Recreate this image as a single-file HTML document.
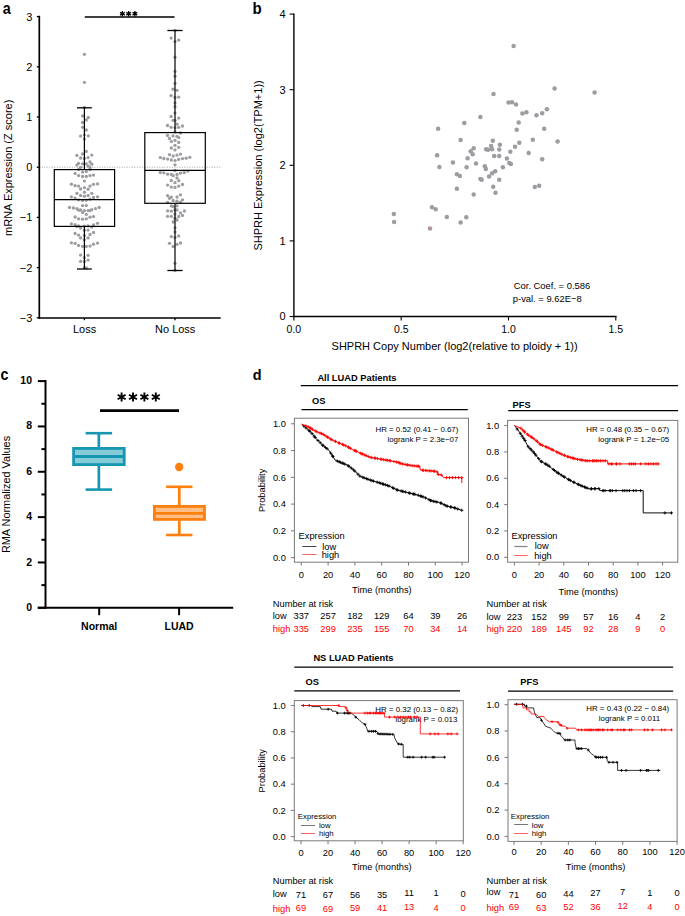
<!DOCTYPE html>
<html><head><meta charset="utf-8"><title>Figure</title>
<style>
html,body{margin:0;padding:0;background:#fff;}
svg{display:block;font-family:"Liberation Sans", sans-serif;}
</style></head>
<body>
<svg width="685" height="916" viewBox="0 0 685 916">
<rect width="685" height="916" fill="#fff"/>
<text transform="translate(2.7,13.5) scale(0.9,1)" font-size="16" font-weight="bold">a</text>
<circle cx="84.4" cy="54.3" r="1.65" fill="#9c9ca2"/>
<circle cx="84.4" cy="82.3" r="1.65" fill="#9c9ca2"/>
<circle cx="84.4" cy="107.5" r="1.65" fill="#9c9ca2"/>
<circle cx="82.6" cy="115.9" r="1.65" fill="#9c9ca2"/>
<circle cx="88.3" cy="117.5" r="1.65" fill="#9c9ca2"/>
<circle cx="86.3" cy="119.9" r="1.65" fill="#9c9ca2"/>
<circle cx="82.6" cy="122.5" r="1.65" fill="#9c9ca2"/>
<circle cx="82.6" cy="127.3" r="1.65" fill="#9c9ca2"/>
<circle cx="86.3" cy="130.0" r="1.65" fill="#9c9ca2"/>
<circle cx="80.6" cy="136.1" r="1.65" fill="#9c9ca2"/>
<circle cx="84.4" cy="134.8" r="1.65" fill="#9c9ca2"/>
<circle cx="88.3" cy="135.8" r="1.65" fill="#9c9ca2"/>
<circle cx="84.4" cy="139.0" r="1.65" fill="#9c9ca2"/>
<circle cx="86.3" cy="151.4" r="1.65" fill="#9c9ca2"/>
<circle cx="82.6" cy="153.9" r="1.65" fill="#9c9ca2"/>
<circle cx="76.9" cy="155.4" r="1.65" fill="#9c9ca2"/>
<circle cx="91.8" cy="155.1" r="1.65" fill="#9c9ca2"/>
<circle cx="80.6" cy="158.0" r="1.65" fill="#9c9ca2"/>
<circle cx="84.4" cy="158.4" r="1.65" fill="#9c9ca2"/>
<circle cx="88.1" cy="157.6" r="1.65" fill="#9c9ca2"/>
<circle cx="78.6" cy="163.3" r="1.65" fill="#9c9ca2"/>
<circle cx="82.6" cy="163.8" r="1.65" fill="#9c9ca2"/>
<circle cx="86.3" cy="163.8" r="1.65" fill="#9c9ca2"/>
<circle cx="90.0" cy="162.0" r="1.65" fill="#9c9ca2"/>
<circle cx="91.8" cy="164.2" r="1.65" fill="#9c9ca2"/>
<circle cx="76.9" cy="165.1" r="1.65" fill="#9c9ca2"/>
<circle cx="80.6" cy="167.3" r="1.65" fill="#9c9ca2"/>
<circle cx="88.1" cy="165.9" r="1.65" fill="#9c9ca2"/>
<circle cx="90.0" cy="167.7" r="1.65" fill="#9c9ca2"/>
<circle cx="78.6" cy="169.5" r="1.65" fill="#9c9ca2"/>
<circle cx="90.0" cy="169.5" r="1.65" fill="#9c9ca2"/>
<circle cx="75.1" cy="173.4" r="1.65" fill="#9c9ca2"/>
<circle cx="82.6" cy="172.1" r="1.65" fill="#9c9ca2"/>
<circle cx="86.3" cy="171.6" r="1.65" fill="#9c9ca2"/>
<circle cx="78.6" cy="175.6" r="1.65" fill="#9c9ca2"/>
<circle cx="82.6" cy="176.5" r="1.65" fill="#9c9ca2"/>
<circle cx="86.3" cy="176.5" r="1.65" fill="#9c9ca2"/>
<circle cx="90.0" cy="175.6" r="1.65" fill="#9c9ca2"/>
<circle cx="93.5" cy="175.1" r="1.65" fill="#9c9ca2"/>
<circle cx="84.4" cy="181.1" r="1.65" fill="#9c9ca2"/>
<circle cx="71.4" cy="184.2" r="1.65" fill="#9c9ca2"/>
<circle cx="75.1" cy="185.7" r="1.65" fill="#9c9ca2"/>
<circle cx="78.6" cy="186.1" r="1.65" fill="#9c9ca2"/>
<circle cx="80.6" cy="189.0" r="1.65" fill="#9c9ca2"/>
<circle cx="84.4" cy="187.6" r="1.65" fill="#9c9ca2"/>
<circle cx="88.1" cy="189.2" r="1.65" fill="#9c9ca2"/>
<circle cx="90.0" cy="186.1" r="1.65" fill="#9c9ca2"/>
<circle cx="93.5" cy="184.3" r="1.65" fill="#9c9ca2"/>
<circle cx="97.5" cy="183.9" r="1.65" fill="#9c9ca2"/>
<circle cx="84.4" cy="192.2" r="1.65" fill="#9c9ca2"/>
<circle cx="76.9" cy="193.3" r="1.65" fill="#9c9ca2"/>
<circle cx="91.8" cy="193.3" r="1.65" fill="#9c9ca2"/>
<circle cx="80.6" cy="195.5" r="1.65" fill="#9c9ca2"/>
<circle cx="84.4" cy="196.2" r="1.65" fill="#9c9ca2"/>
<circle cx="88.1" cy="195.5" r="1.65" fill="#9c9ca2"/>
<circle cx="71.4" cy="196.8" r="1.65" fill="#9c9ca2"/>
<circle cx="75.1" cy="198.1" r="1.65" fill="#9c9ca2"/>
<circle cx="78.6" cy="199.8" r="1.65" fill="#9c9ca2"/>
<circle cx="82.6" cy="200.4" r="1.65" fill="#9c9ca2"/>
<circle cx="86.3" cy="200.1" r="1.65" fill="#9c9ca2"/>
<circle cx="90.0" cy="199.2" r="1.65" fill="#9c9ca2"/>
<circle cx="93.5" cy="197.5" r="1.65" fill="#9c9ca2"/>
<circle cx="97.5" cy="196.8" r="1.65" fill="#9c9ca2"/>
<circle cx="82.6" cy="205.6" r="1.65" fill="#9c9ca2"/>
<circle cx="86.3" cy="205.6" r="1.65" fill="#9c9ca2"/>
<circle cx="69.5" cy="207.4" r="1.65" fill="#9c9ca2"/>
<circle cx="73.4" cy="208.0" r="1.65" fill="#9c9ca2"/>
<circle cx="76.9" cy="208.6" r="1.65" fill="#9c9ca2"/>
<circle cx="78.6" cy="210.2" r="1.65" fill="#9c9ca2"/>
<circle cx="80.6" cy="210.0" r="1.65" fill="#9c9ca2"/>
<circle cx="82.6" cy="212.4" r="1.65" fill="#9c9ca2"/>
<circle cx="84.4" cy="210.6" r="1.65" fill="#9c9ca2"/>
<circle cx="88.1" cy="210.6" r="1.65" fill="#9c9ca2"/>
<circle cx="90.0" cy="210.6" r="1.65" fill="#9c9ca2"/>
<circle cx="91.8" cy="209.7" r="1.65" fill="#9c9ca2"/>
<circle cx="95.5" cy="208.6" r="1.65" fill="#9c9ca2"/>
<circle cx="99.2" cy="207.4" r="1.65" fill="#9c9ca2"/>
<circle cx="86.3" cy="214.4" r="1.65" fill="#9c9ca2"/>
<circle cx="75.1" cy="217.0" r="1.65" fill="#9c9ca2"/>
<circle cx="78.6" cy="218.8" r="1.65" fill="#9c9ca2"/>
<circle cx="82.6" cy="219.2" r="1.65" fill="#9c9ca2"/>
<circle cx="86.3" cy="218.8" r="1.65" fill="#9c9ca2"/>
<circle cx="90.0" cy="217.2" r="1.65" fill="#9c9ca2"/>
<circle cx="93.5" cy="216.6" r="1.65" fill="#9c9ca2"/>
<circle cx="71.4" cy="223.8" r="1.65" fill="#9c9ca2"/>
<circle cx="75.1" cy="224.7" r="1.65" fill="#9c9ca2"/>
<circle cx="78.6" cy="225.8" r="1.65" fill="#9c9ca2"/>
<circle cx="76.9" cy="226.6" r="1.65" fill="#9c9ca2"/>
<circle cx="80.6" cy="228.0" r="1.65" fill="#9c9ca2"/>
<circle cx="84.4" cy="226.2" r="1.65" fill="#9c9ca2"/>
<circle cx="88.1" cy="225.9" r="1.65" fill="#9c9ca2"/>
<circle cx="91.8" cy="227.1" r="1.65" fill="#9c9ca2"/>
<circle cx="93.5" cy="224.9" r="1.65" fill="#9c9ca2"/>
<circle cx="97.5" cy="223.3" r="1.65" fill="#9c9ca2"/>
<circle cx="84.4" cy="230.3" r="1.65" fill="#9c9ca2"/>
<circle cx="88.1" cy="230.1" r="1.65" fill="#9c9ca2"/>
<circle cx="75.1" cy="233.5" r="1.65" fill="#9c9ca2"/>
<circle cx="78.6" cy="235.1" r="1.65" fill="#9c9ca2"/>
<circle cx="80.6" cy="237.9" r="1.65" fill="#9c9ca2"/>
<circle cx="84.4" cy="235.6" r="1.65" fill="#9c9ca2"/>
<circle cx="84.4" cy="239.8" r="1.65" fill="#9c9ca2"/>
<circle cx="88.1" cy="237.9" r="1.65" fill="#9c9ca2"/>
<circle cx="90.0" cy="234.5" r="1.65" fill="#9c9ca2"/>
<circle cx="93.5" cy="232.5" r="1.65" fill="#9c9ca2"/>
<circle cx="71.4" cy="242.8" r="1.65" fill="#9c9ca2"/>
<circle cx="75.1" cy="243.3" r="1.65" fill="#9c9ca2"/>
<circle cx="78.6" cy="245.5" r="1.65" fill="#9c9ca2"/>
<circle cx="82.6" cy="246.4" r="1.65" fill="#9c9ca2"/>
<circle cx="86.3" cy="246.4" r="1.65" fill="#9c9ca2"/>
<circle cx="90.0" cy="246.1" r="1.65" fill="#9c9ca2"/>
<circle cx="93.5" cy="244.2" r="1.65" fill="#9c9ca2"/>
<circle cx="97.5" cy="243.1" r="1.65" fill="#9c9ca2"/>
<circle cx="80.6" cy="255.1" r="1.65" fill="#9c9ca2"/>
<circle cx="88.1" cy="255.3" r="1.65" fill="#9c9ca2"/>
<circle cx="84.4" cy="257.6" r="1.65" fill="#9c9ca2"/>
<circle cx="80.6" cy="261.4" r="1.65" fill="#9c9ca2"/>
<circle cx="84.4" cy="261.4" r="1.65" fill="#9c9ca2"/>
<circle cx="88.1" cy="260.1" r="1.65" fill="#9c9ca2"/>
<circle cx="84.4" cy="267.8" r="1.65" fill="#9c9ca2"/>
<circle cx="86.3" cy="267.8" r="1.65" fill="#9c9ca2"/>
<circle cx="175.0" cy="30.3" r="1.65" fill="#9c9ca2"/>
<circle cx="171.1" cy="38.1" r="1.65" fill="#9c9ca2"/>
<circle cx="178.7" cy="40.1" r="1.65" fill="#9c9ca2"/>
<circle cx="175.0" cy="41.6" r="1.65" fill="#9c9ca2"/>
<circle cx="175.0" cy="57.2" r="1.65" fill="#9c9ca2"/>
<circle cx="175.0" cy="71.4" r="1.65" fill="#9c9ca2"/>
<circle cx="175.0" cy="76.2" r="1.65" fill="#9c9ca2"/>
<circle cx="175.0" cy="83.3" r="1.65" fill="#9c9ca2"/>
<circle cx="173.0" cy="89.2" r="1.65" fill="#9c9ca2"/>
<circle cx="177.0" cy="90.3" r="1.65" fill="#9c9ca2"/>
<circle cx="171.1" cy="95.6" r="1.65" fill="#9c9ca2"/>
<circle cx="175.0" cy="97.5" r="1.65" fill="#9c9ca2"/>
<circle cx="178.7" cy="97.1" r="1.65" fill="#9c9ca2"/>
<circle cx="175.0" cy="102.8" r="1.65" fill="#9c9ca2"/>
<circle cx="175.0" cy="106.7" r="1.65" fill="#9c9ca2"/>
<circle cx="175.0" cy="113.1" r="1.65" fill="#9c9ca2"/>
<circle cx="171.1" cy="116.4" r="1.65" fill="#9c9ca2"/>
<circle cx="178.7" cy="118.1" r="1.65" fill="#9c9ca2"/>
<circle cx="173.0" cy="120.3" r="1.65" fill="#9c9ca2"/>
<circle cx="175.0" cy="120.3" r="1.65" fill="#9c9ca2"/>
<circle cx="177.0" cy="124.2" r="1.65" fill="#9c9ca2"/>
<circle cx="167.5" cy="125.5" r="1.65" fill="#9c9ca2"/>
<circle cx="171.1" cy="127.3" r="1.65" fill="#9c9ca2"/>
<circle cx="175.0" cy="127.7" r="1.65" fill="#9c9ca2"/>
<circle cx="178.7" cy="127.3" r="1.65" fill="#9c9ca2"/>
<circle cx="182.5" cy="126.0" r="1.65" fill="#9c9ca2"/>
<circle cx="175.0" cy="132.1" r="1.65" fill="#9c9ca2"/>
<circle cx="180.5" cy="133.0" r="1.65" fill="#9c9ca2"/>
<circle cx="167.5" cy="135.4" r="1.65" fill="#9c9ca2"/>
<circle cx="173.0" cy="135.9" r="1.65" fill="#9c9ca2"/>
<circle cx="177.0" cy="136.3" r="1.65" fill="#9c9ca2"/>
<circle cx="178.7" cy="137.6" r="1.65" fill="#9c9ca2"/>
<circle cx="169.5" cy="138.5" r="1.65" fill="#9c9ca2"/>
<circle cx="171.3" cy="141.6" r="1.65" fill="#9c9ca2"/>
<circle cx="175.0" cy="140.4" r="1.65" fill="#9c9ca2"/>
<circle cx="178.7" cy="142.4" r="1.65" fill="#9c9ca2"/>
<circle cx="175.0" cy="145.3" r="1.65" fill="#9c9ca2"/>
<circle cx="171.3" cy="148.0" r="1.65" fill="#9c9ca2"/>
<circle cx="178.7" cy="147.3" r="1.65" fill="#9c9ca2"/>
<circle cx="175.0" cy="149.9" r="1.65" fill="#9c9ca2"/>
<circle cx="169.5" cy="154.7" r="1.65" fill="#9c9ca2"/>
<circle cx="173.2" cy="156.0" r="1.65" fill="#9c9ca2"/>
<circle cx="177.0" cy="155.1" r="1.65" fill="#9c9ca2"/>
<circle cx="180.5" cy="154.1" r="1.65" fill="#9c9ca2"/>
<circle cx="160.3" cy="157.6" r="1.65" fill="#9c9ca2"/>
<circle cx="163.8" cy="158.5" r="1.65" fill="#9c9ca2"/>
<circle cx="167.6" cy="159.1" r="1.65" fill="#9c9ca2"/>
<circle cx="171.3" cy="160.0" r="1.65" fill="#9c9ca2"/>
<circle cx="175.0" cy="160.6" r="1.65" fill="#9c9ca2"/>
<circle cx="178.7" cy="159.4" r="1.65" fill="#9c9ca2"/>
<circle cx="182.5" cy="158.6" r="1.65" fill="#9c9ca2"/>
<circle cx="186.2" cy="158.2" r="1.65" fill="#9c9ca2"/>
<circle cx="189.8" cy="157.3" r="1.65" fill="#9c9ca2"/>
<circle cx="175.0" cy="164.8" r="1.65" fill="#9c9ca2"/>
<circle cx="160.3" cy="172.5" r="1.65" fill="#9c9ca2"/>
<circle cx="163.8" cy="172.8" r="1.65" fill="#9c9ca2"/>
<circle cx="167.6" cy="174.2" r="1.65" fill="#9c9ca2"/>
<circle cx="171.3" cy="174.4" r="1.65" fill="#9c9ca2"/>
<circle cx="173.2" cy="175.7" r="1.65" fill="#9c9ca2"/>
<circle cx="177.0" cy="174.4" r="1.65" fill="#9c9ca2"/>
<circle cx="180.5" cy="173.1" r="1.65" fill="#9c9ca2"/>
<circle cx="184.2" cy="172.7" r="1.65" fill="#9c9ca2"/>
<circle cx="187.9" cy="171.1" r="1.65" fill="#9c9ca2"/>
<circle cx="175.0" cy="170.5" r="1.65" fill="#9c9ca2"/>
<circle cx="177.0" cy="177.9" r="1.65" fill="#9c9ca2"/>
<circle cx="171.3" cy="180.5" r="1.65" fill="#9c9ca2"/>
<circle cx="178.7" cy="180.7" r="1.65" fill="#9c9ca2"/>
<circle cx="175.0" cy="182.7" r="1.65" fill="#9c9ca2"/>
<circle cx="167.6" cy="185.1" r="1.65" fill="#9c9ca2"/>
<circle cx="171.3" cy="187.1" r="1.65" fill="#9c9ca2"/>
<circle cx="175.0" cy="187.4" r="1.65" fill="#9c9ca2"/>
<circle cx="178.7" cy="186.1" r="1.65" fill="#9c9ca2"/>
<circle cx="182.5" cy="184.5" r="1.65" fill="#9c9ca2"/>
<circle cx="167.6" cy="195.7" r="1.65" fill="#9c9ca2"/>
<circle cx="180.5" cy="194.8" r="1.65" fill="#9c9ca2"/>
<circle cx="169.5" cy="198.3" r="1.65" fill="#9c9ca2"/>
<circle cx="171.3" cy="197.2" r="1.65" fill="#9c9ca2"/>
<circle cx="177.0" cy="197.0" r="1.65" fill="#9c9ca2"/>
<circle cx="173.2" cy="200.5" r="1.65" fill="#9c9ca2"/>
<circle cx="182.5" cy="199.8" r="1.65" fill="#9c9ca2"/>
<circle cx="167.6" cy="202.3" r="1.65" fill="#9c9ca2"/>
<circle cx="177.0" cy="201.2" r="1.65" fill="#9c9ca2"/>
<circle cx="180.5" cy="202.1" r="1.65" fill="#9c9ca2"/>
<circle cx="171.3" cy="205.9" r="1.65" fill="#9c9ca2"/>
<circle cx="173.2" cy="206.6" r="1.65" fill="#9c9ca2"/>
<circle cx="177.0" cy="205.8" r="1.65" fill="#9c9ca2"/>
<circle cx="167.6" cy="210.8" r="1.65" fill="#9c9ca2"/>
<circle cx="171.3" cy="211.2" r="1.65" fill="#9c9ca2"/>
<circle cx="175.0" cy="210.0" r="1.65" fill="#9c9ca2"/>
<circle cx="177.0" cy="210.0" r="1.65" fill="#9c9ca2"/>
<circle cx="180.5" cy="212.9" r="1.65" fill="#9c9ca2"/>
<circle cx="184.4" cy="211.0" r="1.65" fill="#9c9ca2"/>
<circle cx="182.5" cy="215.4" r="1.65" fill="#9c9ca2"/>
<circle cx="167.6" cy="216.3" r="1.65" fill="#9c9ca2"/>
<circle cx="171.3" cy="216.3" r="1.65" fill="#9c9ca2"/>
<circle cx="175.0" cy="214.1" r="1.65" fill="#9c9ca2"/>
<circle cx="178.7" cy="216.5" r="1.65" fill="#9c9ca2"/>
<circle cx="175.0" cy="218.2" r="1.65" fill="#9c9ca2"/>
<circle cx="177.0" cy="220.0" r="1.65" fill="#9c9ca2"/>
<circle cx="173.2" cy="222.0" r="1.65" fill="#9c9ca2"/>
<circle cx="175.0" cy="227.8" r="1.65" fill="#9c9ca2"/>
<circle cx="175.0" cy="232.0" r="1.65" fill="#9c9ca2"/>
<circle cx="171.3" cy="236.6" r="1.65" fill="#9c9ca2"/>
<circle cx="175.0" cy="237.5" r="1.65" fill="#9c9ca2"/>
<circle cx="178.7" cy="236.0" r="1.65" fill="#9c9ca2"/>
<circle cx="169.5" cy="243.3" r="1.65" fill="#9c9ca2"/>
<circle cx="173.2" cy="246.5" r="1.65" fill="#9c9ca2"/>
<circle cx="177.0" cy="244.3" r="1.65" fill="#9c9ca2"/>
<circle cx="180.5" cy="243.0" r="1.65" fill="#9c9ca2"/>
<circle cx="175.0" cy="263.3" r="1.65" fill="#9c9ca2"/>
<circle cx="175.0" cy="270.5" r="1.65" fill="#9c9ca2"/>
<line x1="39.30" y1="167.20" x2="221.00" y2="167.20" stroke="#888" stroke-width="0.8" stroke-dasharray="1,1.5"/>
<line x1="39.30" y1="15.80" x2="39.30" y2="318.80" stroke="#000" stroke-width="1.7"/>
<line x1="38.45" y1="318.00" x2="220.70" y2="318.00" stroke="#000" stroke-width="1.6"/>
<line x1="36.80" y1="317.80" x2="39.30" y2="317.80" stroke="#000" stroke-width="1.3"/>
<text x="32.4" y="321.7" font-size="11" text-anchor="end">−3</text>
<line x1="36.80" y1="267.60" x2="39.30" y2="267.60" stroke="#000" stroke-width="1.3"/>
<text x="32.4" y="271.5" font-size="11" text-anchor="end">−2</text>
<line x1="36.80" y1="217.40" x2="39.30" y2="217.40" stroke="#000" stroke-width="1.3"/>
<text x="32.4" y="221.3" font-size="11" text-anchor="end">−1</text>
<line x1="36.80" y1="167.20" x2="39.30" y2="167.20" stroke="#000" stroke-width="1.3"/>
<text x="32.4" y="171.1" font-size="11" text-anchor="end">0</text>
<line x1="36.80" y1="117.00" x2="39.30" y2="117.00" stroke="#000" stroke-width="1.3"/>
<text x="32.4" y="120.9" font-size="11" text-anchor="end">1</text>
<line x1="36.80" y1="66.80" x2="39.30" y2="66.80" stroke="#000" stroke-width="1.3"/>
<text x="32.4" y="70.7" font-size="11" text-anchor="end">2</text>
<line x1="36.80" y1="16.60" x2="39.30" y2="16.60" stroke="#000" stroke-width="1.3"/>
<text x="32.4" y="20.5" font-size="11" text-anchor="end">3</text>
<line x1="84.40" y1="318.00" x2="84.40" y2="320.20" stroke="#000" stroke-width="1.3"/>
<line x1="175.00" y1="318.00" x2="175.00" y2="320.20" stroke="#000" stroke-width="1.3"/>
<text x="84.6" y="333.0" font-size="11" text-anchor="middle">Loss</text>
<text x="175.2" y="333.0" font-size="11" text-anchor="middle">No Loss</text>
<text transform="translate(11.6,167.8) rotate(-90)" font-size="11" text-anchor="middle">mRNA Expression (Z score)</text>
<rect x="54.3" y="169.6" width="60.3" height="56.8" fill="none" stroke="#000" stroke-width="1.2"/>
<line x1="54.30" y1="199.70" x2="114.60" y2="199.70" stroke="#000" stroke-width="1.2"/>
<line x1="84.40" y1="107.80" x2="84.40" y2="169.60" stroke="#000" stroke-width="1.2"/>
<line x1="84.40" y1="226.40" x2="84.40" y2="269.00" stroke="#000" stroke-width="1.2"/>
<line x1="77.00" y1="107.80" x2="91.80" y2="107.80" stroke="#000" stroke-width="1.3"/>
<line x1="77.00" y1="269.00" x2="91.80" y2="269.00" stroke="#000" stroke-width="1.3"/>
<rect x="144.8" y="132.6" width="60.5" height="70.7" fill="none" stroke="#000" stroke-width="1.2"/>
<line x1="144.80" y1="170.40" x2="205.30" y2="170.40" stroke="#000" stroke-width="1.2"/>
<line x1="175.00" y1="30.50" x2="175.00" y2="132.60" stroke="#000" stroke-width="1.2"/>
<line x1="175.00" y1="203.30" x2="175.00" y2="270.50" stroke="#000" stroke-width="1.2"/>
<line x1="167.40" y1="30.50" x2="182.60" y2="30.50" stroke="#000" stroke-width="1.3"/>
<line x1="167.40" y1="270.50" x2="182.60" y2="270.50" stroke="#000" stroke-width="1.3"/>
<line x1="84.80" y1="16.90" x2="174.60" y2="16.90" stroke="#000" stroke-width="1.5"/>
<path d="M122.40,11.00 L122.40,16.50 M120.02,12.38 L124.78,15.12 M120.02,15.12 L124.78,12.38 " stroke="#000" stroke-width="1.25" fill="none"/>
<path d="M128.65,11.00 L128.65,16.50 M126.27,12.38 L131.03,15.12 M126.27,15.12 L131.03,12.38 " stroke="#000" stroke-width="1.25" fill="none"/>
<path d="M134.90,11.00 L134.90,16.50 M132.52,12.38 L137.28,15.12 M132.52,15.12 L137.28,12.38 " stroke="#000" stroke-width="1.25" fill="none"/>
<text transform="translate(252.4,13.8) scale(0.94,1)" font-size="16" font-weight="bold">b</text>
<circle cx="513.6" cy="46.1" r="2.25" fill="#9c9ca2"/>
<circle cx="554.6" cy="88.4" r="2.25" fill="#9c9ca2"/>
<circle cx="594.6" cy="92.4" r="2.25" fill="#9c9ca2"/>
<circle cx="493.5" cy="94.1" r="2.25" fill="#9c9ca2"/>
<circle cx="508.6" cy="102.5" r="2.25" fill="#9c9ca2"/>
<circle cx="512.0" cy="102.2" r="2.25" fill="#9c9ca2"/>
<circle cx="516.0" cy="104.5" r="2.25" fill="#9c9ca2"/>
<circle cx="546.9" cy="109.2" r="2.25" fill="#9c9ca2"/>
<circle cx="542.2" cy="113.2" r="2.25" fill="#9c9ca2"/>
<circle cx="536.5" cy="115.2" r="2.25" fill="#9c9ca2"/>
<circle cx="526.4" cy="112.2" r="2.25" fill="#9c9ca2"/>
<circle cx="522.4" cy="113.6" r="2.25" fill="#9c9ca2"/>
<circle cx="480.4" cy="116.9" r="2.25" fill="#9c9ca2"/>
<circle cx="464.3" cy="123.0" r="2.25" fill="#9c9ca2"/>
<circle cx="518.7" cy="122.6" r="2.25" fill="#9c9ca2"/>
<circle cx="438.1" cy="128.7" r="2.25" fill="#9c9ca2"/>
<circle cx="516.7" cy="129.7" r="2.25" fill="#9c9ca2"/>
<circle cx="544.2" cy="128.7" r="2.25" fill="#9c9ca2"/>
<circle cx="460.6" cy="140.1" r="2.25" fill="#9c9ca2"/>
<circle cx="492.8" cy="140.8" r="2.25" fill="#9c9ca2"/>
<circle cx="532.8" cy="139.8" r="2.25" fill="#9c9ca2"/>
<circle cx="557.6" cy="141.4" r="2.25" fill="#9c9ca2"/>
<circle cx="519.3" cy="142.8" r="2.25" fill="#9c9ca2"/>
<circle cx="499.9" cy="144.8" r="2.25" fill="#9c9ca2"/>
<circle cx="491.1" cy="146.1" r="2.25" fill="#9c9ca2"/>
<circle cx="515.0" cy="146.8" r="2.25" fill="#9c9ca2"/>
<circle cx="473.7" cy="148.2" r="2.25" fill="#9c9ca2"/>
<circle cx="486.1" cy="149.2" r="2.25" fill="#9c9ca2"/>
<circle cx="488.1" cy="149.8" r="2.25" fill="#9c9ca2"/>
<circle cx="492.1" cy="149.2" r="2.25" fill="#9c9ca2"/>
<circle cx="499.2" cy="149.5" r="2.25" fill="#9c9ca2"/>
<circle cx="470.7" cy="151.2" r="2.25" fill="#9c9ca2"/>
<circle cx="472.7" cy="154.2" r="2.25" fill="#9c9ca2"/>
<circle cx="510.3" cy="151.8" r="2.25" fill="#9c9ca2"/>
<circle cx="528.7" cy="152.9" r="2.25" fill="#9c9ca2"/>
<circle cx="437.1" cy="155.2" r="2.25" fill="#9c9ca2"/>
<circle cx="494.2" cy="155.9" r="2.25" fill="#9c9ca2"/>
<circle cx="499.2" cy="155.9" r="2.25" fill="#9c9ca2"/>
<circle cx="467.6" cy="158.2" r="2.25" fill="#9c9ca2"/>
<circle cx="506.9" cy="158.6" r="2.25" fill="#9c9ca2"/>
<circle cx="542.2" cy="159.2" r="2.25" fill="#9c9ca2"/>
<circle cx="452.9" cy="162.6" r="2.25" fill="#9c9ca2"/>
<circle cx="476.0" cy="163.6" r="2.25" fill="#9c9ca2"/>
<circle cx="509.3" cy="162.9" r="2.25" fill="#9c9ca2"/>
<circle cx="510.9" cy="163.9" r="2.25" fill="#9c9ca2"/>
<circle cx="439.4" cy="167.0" r="2.25" fill="#9c9ca2"/>
<circle cx="466.6" cy="167.3" r="2.25" fill="#9c9ca2"/>
<circle cx="484.8" cy="166.3" r="2.25" fill="#9c9ca2"/>
<circle cx="485.8" cy="169.0" r="2.25" fill="#9c9ca2"/>
<circle cx="502.9" cy="167.3" r="2.25" fill="#9c9ca2"/>
<circle cx="495.2" cy="171.3" r="2.25" fill="#9c9ca2"/>
<circle cx="492.1" cy="173.3" r="2.25" fill="#9c9ca2"/>
<circle cx="489.1" cy="176.4" r="2.25" fill="#9c9ca2"/>
<circle cx="456.9" cy="174.3" r="2.25" fill="#9c9ca2"/>
<circle cx="459.9" cy="176.0" r="2.25" fill="#9c9ca2"/>
<circle cx="480.4" cy="179.0" r="2.25" fill="#9c9ca2"/>
<circle cx="481.7" cy="179.7" r="2.25" fill="#9c9ca2"/>
<circle cx="499.2" cy="179.7" r="2.25" fill="#9c9ca2"/>
<circle cx="456.9" cy="188.8" r="2.25" fill="#9c9ca2"/>
<circle cx="493.2" cy="186.8" r="2.25" fill="#9c9ca2"/>
<circle cx="534.8" cy="187.1" r="2.25" fill="#9c9ca2"/>
<circle cx="539.2" cy="185.8" r="2.25" fill="#9c9ca2"/>
<circle cx="473.7" cy="194.5" r="2.25" fill="#9c9ca2"/>
<circle cx="495.5" cy="192.8" r="2.25" fill="#9c9ca2"/>
<circle cx="432.0" cy="207.2" r="2.25" fill="#9c9ca2"/>
<circle cx="435.7" cy="209.3" r="2.25" fill="#9c9ca2"/>
<circle cx="446.8" cy="217.0" r="2.25" fill="#9c9ca2"/>
<circle cx="466.3" cy="217.3" r="2.25" fill="#9c9ca2"/>
<circle cx="460.6" cy="222.4" r="2.25" fill="#9c9ca2"/>
<circle cx="393.8" cy="214.0" r="2.25" fill="#9c9ca2"/>
<circle cx="394.1" cy="222.0" r="2.25" fill="#9c9ca2"/>
<circle cx="430.0" cy="228.4" r="2.25" fill="#ab979d"/>
<line x1="293.90" y1="13.40" x2="293.90" y2="317.20" stroke="#000" stroke-width="1.4"/>
<line x1="293.20" y1="316.50" x2="616.60" y2="316.50" stroke="#000" stroke-width="1.4"/>
<line x1="289.60" y1="316.50" x2="293.90" y2="316.50" stroke="#000" stroke-width="1.1"/>
<text x="285.5" y="320.4" font-size="11" text-anchor="end">0</text>
<line x1="289.60" y1="240.90" x2="293.90" y2="240.90" stroke="#000" stroke-width="1.1"/>
<text x="285.5" y="244.8" font-size="11" text-anchor="end">1</text>
<line x1="289.60" y1="165.30" x2="293.90" y2="165.30" stroke="#000" stroke-width="1.1"/>
<text x="285.5" y="169.2" font-size="11" text-anchor="end">2</text>
<line x1="289.60" y1="89.70" x2="293.90" y2="89.70" stroke="#000" stroke-width="1.1"/>
<text x="285.5" y="93.6" font-size="11" text-anchor="end">3</text>
<line x1="289.60" y1="14.10" x2="293.90" y2="14.10" stroke="#000" stroke-width="1.1"/>
<text x="285.5" y="18.0" font-size="11" text-anchor="end">4</text>
<line x1="293.90" y1="316.50" x2="293.90" y2="320.50" stroke="#000" stroke-width="1.1"/>
<text x="293.9" y="333.4" font-size="10.5" text-anchor="middle">0.0</text>
<line x1="401.20" y1="316.50" x2="401.20" y2="320.50" stroke="#000" stroke-width="1.1"/>
<text x="401.2" y="333.4" font-size="10.5" text-anchor="middle">0.5</text>
<line x1="508.50" y1="316.50" x2="508.50" y2="320.50" stroke="#000" stroke-width="1.1"/>
<text x="508.5" y="333.4" font-size="10.5" text-anchor="middle">1.0</text>
<line x1="615.80" y1="316.50" x2="615.80" y2="320.50" stroke="#000" stroke-width="1.1"/>
<text x="615.8" y="333.4" font-size="10.5" text-anchor="middle">1.5</text>
<text x="454.6" y="349.9" font-size="11" text-anchor="middle">SHPRH Copy Number (log2(relative to ploidy + 1))</text>
<text transform="translate(261.8,165.4) rotate(-90)" font-size="11" text-anchor="middle">SHPRH Expression (log2(TPM+1))</text>
<text x="513.8" y="288.6" font-size="9.4">Cor. Coef. = 0.586</text>
<text x="512.8" y="302.2" font-size="9.4">p-val. = 9.62E−8</text>
<text transform="translate(0.6,380.1) scale(0.9,1)" font-size="16" font-weight="bold">c</text>
<line x1="45.50" y1="380.00" x2="45.50" y2="608.80" stroke="#000" stroke-width="2"/>
<line x1="37.80" y1="607.80" x2="233.20" y2="607.80" stroke="#000" stroke-width="2"/>
<line x1="37.80" y1="607.80" x2="45.50" y2="607.80" stroke="#000" stroke-width="2"/>
<text x="32.0" y="610.8" font-size="10.5" text-anchor="end" font-weight="bold">0</text>
<line x1="41.40" y1="585.13" x2="45.50" y2="585.13" stroke="#000" stroke-width="2"/>
<line x1="37.80" y1="562.46" x2="45.50" y2="562.46" stroke="#000" stroke-width="2"/>
<text x="32.0" y="565.5" font-size="10.5" text-anchor="end" font-weight="bold">2</text>
<line x1="41.40" y1="539.79" x2="45.50" y2="539.79" stroke="#000" stroke-width="2"/>
<line x1="37.80" y1="517.12" x2="45.50" y2="517.12" stroke="#000" stroke-width="2"/>
<text x="32.0" y="520.1" font-size="10.5" text-anchor="end" font-weight="bold">4</text>
<line x1="41.40" y1="494.45" x2="45.50" y2="494.45" stroke="#000" stroke-width="2"/>
<line x1="37.80" y1="471.78" x2="45.50" y2="471.78" stroke="#000" stroke-width="2"/>
<text x="32.0" y="474.8" font-size="10.5" text-anchor="end" font-weight="bold">6</text>
<line x1="41.40" y1="449.11" x2="45.50" y2="449.11" stroke="#000" stroke-width="2"/>
<line x1="37.80" y1="426.44" x2="45.50" y2="426.44" stroke="#000" stroke-width="2"/>
<text x="32.0" y="429.4" font-size="10.5" text-anchor="end" font-weight="bold">8</text>
<line x1="41.40" y1="403.77" x2="45.50" y2="403.77" stroke="#000" stroke-width="2"/>
<line x1="37.80" y1="381.10" x2="45.50" y2="381.10" stroke="#000" stroke-width="2"/>
<text x="32.0" y="384.1" font-size="10.5" text-anchor="end" font-weight="bold">10</text>
<line x1="99.20" y1="607.80" x2="99.20" y2="615.20" stroke="#000" stroke-width="2"/>
<line x1="179.10" y1="607.80" x2="179.10" y2="615.20" stroke="#000" stroke-width="2"/>
<text x="99.2" y="630.0" font-size="10.5" text-anchor="middle" font-weight="bold">Normal</text>
<text x="179.1" y="630.0" font-size="10.5" text-anchor="middle" font-weight="bold">LUAD</text>
<text transform="translate(10.0,494.5) rotate(-90)" font-size="10.9" text-anchor="middle">RMA Normalized Values</text>
<line x1="98.85" y1="433.20" x2="98.85" y2="447.00" stroke="#1597b2" stroke-width="2.7"/>
<line x1="98.85" y1="466.00" x2="98.85" y2="489.60" stroke="#1597b2" stroke-width="2.7"/>
<line x1="85.60" y1="433.20" x2="112.10" y2="433.20" stroke="#1597b2" stroke-width="2.6"/>
<line x1="85.60" y1="489.60" x2="112.10" y2="489.60" stroke="#1597b2" stroke-width="2.6"/>
<rect x="73.60" y="448.40" width="50.60" height="16.20" fill="#86cbd8" stroke="#1597b2" stroke-width="2.8"/>
<line x1="73.60" y1="456.50" x2="124.20" y2="456.50" stroke="#1597b2" stroke-width="2.8"/>
<line x1="179.30" y1="486.80" x2="179.30" y2="505.00" stroke="#ff7f0e" stroke-width="2.7"/>
<line x1="179.30" y1="520.80" x2="179.30" y2="535.00" stroke="#ff7f0e" stroke-width="2.7"/>
<line x1="166.10" y1="486.80" x2="192.50" y2="486.80" stroke="#ff7f0e" stroke-width="2.6"/>
<line x1="166.10" y1="535.00" x2="192.50" y2="535.00" stroke="#ff7f0e" stroke-width="2.6"/>
<rect x="154.40" y="506.40" width="50.10" height="13.00" fill="#ffbf86" stroke="#ff7f0e" stroke-width="2.8"/>
<line x1="154.40" y1="513.30" x2="204.50" y2="513.30" stroke="#ff7f0e" stroke-width="2.8"/>
<circle cx="179.2" cy="467.0" r="4.2" fill="#ff7f0e"/>
<line x1="100.00" y1="410.60" x2="179.00" y2="410.60" stroke="#000" stroke-width="2.6"/>
<path d="M121.60,392.40 L121.60,401.60 M117.62,394.70 L125.58,399.30 M117.62,399.30 L125.58,394.70 " stroke="#000" stroke-width="1.9" fill="none"/>
<path d="M133.00,392.40 L133.00,401.60 M129.02,394.70 L136.98,399.30 M129.02,399.30 L136.98,394.70 " stroke="#000" stroke-width="1.9" fill="none"/>
<path d="M144.40,392.40 L144.40,401.60 M140.42,394.70 L148.38,399.30 M140.42,399.30 L148.38,394.70 " stroke="#000" stroke-width="1.9" fill="none"/>
<path d="M155.80,392.40 L155.80,401.60 M151.82,394.70 L159.78,399.30 M151.82,399.30 L159.78,394.70 " stroke="#000" stroke-width="1.9" fill="none"/>
<text transform="translate(252.7,380.3) scale(0.94,1)" font-size="15.4" font-weight="bold">d</text>
<text x="317.4" y="381.2" font-size="9.3" font-weight="bold">All LUAD Patients</text>
<line x1="300.80" y1="385.60" x2="678.00" y2="385.60" stroke="#000" stroke-width="1.3"/>
<text x="312.0" y="404.4" font-size="9.3" font-weight="bold">OS</text>
<line x1="301.50" y1="409.60" x2="467.80" y2="409.60" stroke="#000" stroke-width="1.3"/>
<text x="512.6" y="407.6" font-size="9.3" font-weight="bold">PFS</text>
<line x1="508.20" y1="410.60" x2="678.00" y2="410.60" stroke="#000" stroke-width="1.3"/>
<text x="313.4" y="661.0" font-size="9.3" font-weight="bold">NS LUAD Patients</text>
<line x1="294.30" y1="667.20" x2="673.20" y2="667.20" stroke="#000" stroke-width="1.3"/>
<text x="305.6" y="684.9" font-size="9.3" font-weight="bold">OS</text>
<line x1="294.30" y1="690.90" x2="460.00" y2="690.90" stroke="#000" stroke-width="1.3"/>
<text x="520.3" y="684.9" font-size="9.3" font-weight="bold">PFS</text>
<line x1="508.00" y1="691.10" x2="673.20" y2="691.10" stroke="#000" stroke-width="1.3"/>
<rect x="294.4" y="418.2" width="174.1" height="144.0" fill="none" stroke="#7a7a7a" stroke-width="1"/>
<line x1="291.00" y1="557.60" x2="294.40" y2="557.60" stroke="#777" stroke-width="1"/>
<text x="285.9" y="560.8" font-size="9.3" text-anchor="end">0.0</text>
<line x1="291.00" y1="530.84" x2="294.40" y2="530.84" stroke="#777" stroke-width="1"/>
<text x="285.9" y="534.0" font-size="9.3" text-anchor="end">0.2</text>
<line x1="291.00" y1="504.08" x2="294.40" y2="504.08" stroke="#777" stroke-width="1"/>
<text x="285.9" y="507.2" font-size="9.3" text-anchor="end">0.4</text>
<line x1="291.00" y1="477.32" x2="294.40" y2="477.32" stroke="#777" stroke-width="1"/>
<text x="285.9" y="480.5" font-size="9.3" text-anchor="end">0.6</text>
<line x1="291.00" y1="450.56" x2="294.40" y2="450.56" stroke="#777" stroke-width="1"/>
<text x="285.9" y="453.7" font-size="9.3" text-anchor="end">0.8</text>
<line x1="291.00" y1="423.80" x2="294.40" y2="423.80" stroke="#777" stroke-width="1"/>
<text x="285.9" y="426.9" font-size="9.3" text-anchor="end">1.0</text>
<line x1="301.30" y1="562.20" x2="301.30" y2="565.60" stroke="#777" stroke-width="1"/>
<text x="301.3" y="578.1" font-size="9.3" text-anchor="middle">0</text>
<line x1="328.10" y1="562.20" x2="328.10" y2="565.60" stroke="#777" stroke-width="1"/>
<text x="328.1" y="578.1" font-size="9.3" text-anchor="middle">20</text>
<line x1="354.90" y1="562.20" x2="354.90" y2="565.60" stroke="#777" stroke-width="1"/>
<text x="354.9" y="578.1" font-size="9.3" text-anchor="middle">40</text>
<line x1="381.70" y1="562.20" x2="381.70" y2="565.60" stroke="#777" stroke-width="1"/>
<text x="381.7" y="578.1" font-size="9.3" text-anchor="middle">60</text>
<line x1="408.50" y1="562.20" x2="408.50" y2="565.60" stroke="#777" stroke-width="1"/>
<text x="408.5" y="578.1" font-size="9.3" text-anchor="middle">80</text>
<line x1="435.30" y1="562.20" x2="435.30" y2="565.60" stroke="#777" stroke-width="1"/>
<text x="435.3" y="578.1" font-size="9.3" text-anchor="middle">100</text>
<line x1="462.10" y1="562.20" x2="462.10" y2="565.60" stroke="#777" stroke-width="1"/>
<text x="462.1" y="578.1" font-size="9.3" text-anchor="middle">120</text>
<text x="381.9" y="593.0" font-size="9.3" text-anchor="middle">Time (months)</text>
<text transform="translate(265.0,490.4) rotate(-90)" font-size="9.3" text-anchor="middle">Probability</text>
<text x="458.4" y="431.9" font-size="7.9" text-anchor="end">HR = 0.52 (0.41 − 0.67)</text>
<text x="458.4" y="441.9" font-size="7.9" text-anchor="end">logrank P = 2.3e−07</text>
<text x="298.6" y="538.5" font-size="9.3">Expression</text>
<line x1="302.40" y1="546.50" x2="316.40" y2="546.50" stroke="#444" stroke-width="1.0"/>
<line x1="302.40" y1="554.50" x2="316.40" y2="554.50" stroke="#ff6060" stroke-width="1.0"/>
<text x="322.3" y="549.7" font-size="9.3">low</text>
<text x="321.7" y="557.9" font-size="9.3">high</text>
<path d="M301.7,424.2 L310.4,431.7 L316.6,439.1 L322.8,445.3 L329.0,450.3 L335.2,460.2 L341.4,462.7 L347.6,465.2 L353.8,470.1 L360.1,476.3 L370.0,480.0 L379.9,483.0 L389.8,486.3 L397.3,490.0 L407.2,492.5 L417.1,494.9 L424.6,497.4 L432.0,501.1 L439.5,502.4 L446.9,506.1 L454.4,507.8 L461.8,510.3" fill="none" stroke="#000" stroke-width="0.95" stroke-linejoin="round"/>
<path d="M302.3,426.1h3.2M303.9,424.5v3.2M304.5,428.0h3.2M306.1,426.4v3.2M307.4,430.5h3.2M309.0,428.9v3.2M308.3,431.3h3.2M309.9,429.7v3.2M310.4,433.6h3.2M312.0,432.0v3.2M312.6,436.2h3.2M314.2,434.6v3.2M313.6,437.5h3.2M315.2,435.9v3.2M316.4,440.5h3.2M318.0,438.9v3.2M318.7,442.8h3.2M320.3,441.2v3.2M321.1,445.2h3.2M322.7,443.6v3.2M321.4,445.5h3.2M323.0,443.9v3.2M323.9,447.5h3.2M325.5,445.9v3.2M325.4,448.7h3.2M327.0,447.1v3.2M329.1,453.1h3.2M330.7,451.5v3.2M330.9,455.8h3.2M332.5,454.2v3.2M331.3,456.5h3.2M332.9,454.9v3.2M335.6,461.0h3.2M337.2,459.4v3.2M337.5,461.8h3.2M339.1,460.2v3.2M338.8,462.3h3.2M340.4,460.7v3.2M340.7,463.1h3.2M342.3,461.5v3.2M341.6,463.4h3.2M343.2,461.8v3.2M343.2,464.1h3.2M344.8,462.5v3.2M346.5,465.6h3.2M348.1,464.0v3.2M347.3,466.3h3.2M348.9,464.7v3.2M349.7,468.1h3.2M351.3,466.5v3.2M351.8,469.8h3.2M353.4,468.2v3.2M353.3,471.2h3.2M354.9,469.6v3.2M356.3,474.1h3.2M357.9,472.5v3.2M358.3,476.1h3.2M359.9,474.5v3.2M361.2,477.3h3.2M362.8,475.7v3.2M362.4,477.8h3.2M364.0,476.2v3.2M364.7,478.6h3.2M366.3,477.0v3.2M366.4,479.3h3.2M368.0,477.7v3.2M368.8,480.1h3.2M370.4,478.5v3.2M370.3,480.6h3.2M371.9,479.0v3.2M371.9,481.1h3.2M373.5,479.5v3.2M375.6,482.2h3.2M377.2,480.6v3.2M377.6,482.8h3.2M379.2,481.2v3.2M379.2,483.3h3.2M380.8,481.7v3.2M380.9,483.9h3.2M382.5,482.3v3.2M382.0,484.2h3.2M383.6,482.6v3.2M383.8,484.8h3.2M385.4,483.2v3.2M385.9,485.5h3.2M387.5,483.9v3.2M387.4,486.0h3.2M389.0,484.4v3.2M391.0,487.7h3.2M392.6,486.1v3.2M392.2,488.3h3.2M393.8,486.7v3.2M395.2,489.8h3.2M396.8,488.2v3.2M396.1,490.1h3.2M397.7,488.5v3.2M399.5,491.0h3.2M401.1,489.4v3.2M401.2,491.4h3.2M402.8,489.8v3.2M401.2,491.4h3.2M402.8,489.8v3.2M403.7,492.0h3.2M405.3,490.4v3.2M407.4,492.9h3.2M409.0,491.3v3.2M408.3,493.2h3.2M409.9,491.6v3.2M411.6,493.9h3.2M413.2,492.3v3.2M412.2,494.1h3.2M413.8,492.5v3.2M413.4,494.4h3.2M415.0,492.8v3.2M416.7,495.3h3.2M418.3,493.7v3.2M419.1,496.1h3.2M420.7,494.5v3.2M419.8,496.3h3.2M421.4,494.7v3.2M421.4,496.9h3.2M423.0,495.3v3.2M424.0,497.9h3.2M425.6,496.3v3.2M427.5,499.7h3.2M429.1,498.1v3.2M429.0,500.4h3.2M430.6,498.8v3.2M429.5,500.6h3.2M431.1,499.0v3.2M431.8,501.3h3.2M433.4,499.7v3.2M433.4,501.6h3.2M435.0,500.0v3.2M435.3,502.0h3.2M436.9,500.4v3.2M439.1,503.0h3.2M440.7,501.4v3.2M439.6,503.3h3.2M441.2,501.7v3.2M442.5,504.7h3.2M444.1,503.1v3.2M444.3,505.6h3.2M445.9,504.0v3.2M445.7,506.2h3.2M447.3,504.6v3.2M449.0,506.9h3.2M450.6,505.3v3.2M449.5,507.1h3.2M451.1,505.5v3.2M452.7,507.8h3.2M454.3,506.2v3.2M453.5,508.0h3.2M455.1,506.4v3.2M456.2,509.0h3.2M457.8,507.4v3.2M460.2,510.3h3.2M461.8,508.7v3.2" stroke="#000" stroke-width="0.85" fill="none"/>
<path d="M301.7,424.2 L307.9,426.7 L316.6,431.7 L322.8,434.1 L330.3,439.0 L337.7,442.5 L345.2,445.5 L352.6,449.5 L360.1,453.0 L370.0,457.3 L379.9,459.0 L389.8,460.7 L397.3,462.2 L402.2,463.9 L412.2,465.7 L419.6,466.4 L420.5,470.1 L437.0,471.4 L438.0,474.5 L442.0,475.1 L443.5,477.6 L460.6,477.6 L461.8,477.6 L461.8,483.0" fill="none" stroke="#ff0000" stroke-width="0.95" stroke-linejoin="round"/>
<path d="M304.3,425.9h3.2M305.9,424.3v3.2M306.7,426.9h3.2M308.3,425.3v3.2M308.6,428.0h3.2M310.2,426.4v3.2M309.3,428.4h3.2M310.9,426.8v3.2M310.9,429.3h3.2M312.5,427.7v3.2M313.6,430.9h3.2M315.2,429.3v3.2M315.3,431.8h3.2M316.9,430.2v3.2M318.4,433.0h3.2M320.0,431.4v3.2M320.0,433.6h3.2M321.6,432.0v3.2M321.7,434.4h3.2M323.3,432.8v3.2M323.5,435.6h3.2M325.1,434.0v3.2M325.7,437.0h3.2M327.3,435.4v3.2M326.4,437.5h3.2M328.0,435.9v3.2M329.0,439.1h3.2M330.6,437.5v3.2M330.2,439.7h3.2M331.8,438.1v3.2M333.8,441.4h3.2M335.4,439.8v3.2M333.8,441.4h3.2M335.4,439.8v3.2M337.4,443.0h3.2M339.0,441.4v3.2M337.6,443.1h3.2M339.2,441.5v3.2M340.9,444.4h3.2M342.5,442.8v3.2M342.0,444.9h3.2M343.6,443.3v3.2M344.1,445.8h3.2M345.7,444.2v3.2M347.0,447.3h3.2M348.6,445.7v3.2M347.0,447.3h3.2M348.6,445.7v3.2M349.0,448.4h3.2M350.6,446.8v3.2M352.8,450.4h3.2M354.4,448.8v3.2M353.8,450.8h3.2M355.4,449.2v3.2M354.8,451.3h3.2M356.4,449.7v3.2M358.7,453.1h3.2M360.3,451.5v3.2M360.5,453.9h3.2M362.1,452.3v3.2M360.5,453.9h3.2M362.1,452.3v3.2M363.1,455.0h3.2M364.7,453.4v3.2M364.4,455.5h3.2M366.0,453.9v3.2M366.7,456.5h3.2M368.3,454.9v3.2M369.3,457.5h3.2M370.9,455.9v3.2M370.1,457.6h3.2M371.7,456.0v3.2M373.2,458.1h3.2M374.8,456.5v3.2M373.7,458.2h3.2M375.3,456.6v3.2M375.9,458.6h3.2M377.5,457.0v3.2M379.2,459.2h3.2M380.8,457.6v3.2M380.2,459.3h3.2M381.8,457.7v3.2M382.1,459.7h3.2M383.7,458.1v3.2M384.4,460.1h3.2M386.0,458.5v3.2M386.0,460.3h3.2M387.6,458.7v3.2M387.7,460.6h3.2M389.3,459.0v3.2M388.8,460.8h3.2M390.4,459.2v3.2M392.3,461.5h3.2M393.9,459.9v3.2M394.8,462.0h3.2M396.4,460.4v3.2M396.7,462.5h3.2M398.3,460.9v3.2M397.9,463.0h3.2M399.5,461.4v3.2M399.1,463.4h3.2M400.7,461.8v3.2M401.0,464.0h3.2M402.6,462.4v3.2M403.6,464.4h3.2M405.2,462.8v3.2M405.5,464.8h3.2M407.1,463.2v3.2M406.1,464.9h3.2M407.7,463.3v3.2M408.3,465.3h3.2M409.9,463.7v3.2M410.5,465.7h3.2M412.1,464.1v3.2M412.7,465.9h3.2M414.3,464.3v3.2M415.3,466.1h3.2M416.9,464.5v3.2M416.5,466.3h3.2M418.1,464.7v3.2M417.3,466.3h3.2M418.9,464.7v3.2M421.0,470.3h3.2M422.6,468.7v3.2M422.0,470.3h3.2M423.6,468.7v3.2M424.1,470.5h3.2M425.7,468.9v3.2M425.4,470.6h3.2M427.0,469.0v3.2M427.7,470.8h3.2M429.3,469.2v3.2M429.5,470.9h3.2M431.1,469.3v3.2M432.3,471.2h3.2M433.9,469.6v3.2M432.7,471.2h3.2M434.3,469.6v3.2M435.6,472.1h3.2M437.2,470.5v3.2M436.7,474.5h3.2M438.3,472.9v3.2M439.7,475.0h3.2M441.3,473.4v3.2M444.9,477.6h3.2M446.5,476.0v3.2M447.9,477.6h3.2M449.5,476.0v3.2M450.9,477.6h3.2M452.5,476.0v3.2M453.9,477.6h3.2M455.5,476.0v3.2M456.9,477.6h3.2M458.5,476.0v3.2M460.2,477.6h3.2M461.8,476.0v3.2" stroke="#ff0000" stroke-width="0.85" fill="none"/>
<text x="272.8" y="606.9" font-size="9.3">Number at risk</text>
<text x="272.8" y="619.4" font-size="9.3">low</text>
<text x="272.8" y="632.0" font-size="9.3" fill="#ff0000">high</text>
<text x="301.3" y="619.4" font-size="9.3" text-anchor="middle">337</text>
<text x="301.3" y="632.0" font-size="9.3" text-anchor="middle" fill="#ff0000">335</text>
<text x="328.1" y="619.4" font-size="9.3" text-anchor="middle">257</text>
<text x="328.1" y="632.0" font-size="9.3" text-anchor="middle" fill="#ff0000">299</text>
<text x="354.9" y="619.4" font-size="9.3" text-anchor="middle">182</text>
<text x="354.9" y="632.0" font-size="9.3" text-anchor="middle" fill="#ff0000">235</text>
<text x="381.7" y="619.4" font-size="9.3" text-anchor="middle">129</text>
<text x="381.7" y="632.0" font-size="9.3" text-anchor="middle" fill="#ff0000">155</text>
<text x="408.5" y="619.4" font-size="9.3" text-anchor="middle">64</text>
<text x="408.5" y="632.0" font-size="9.3" text-anchor="middle" fill="#ff0000">70</text>
<text x="435.3" y="619.4" font-size="9.3" text-anchor="middle">39</text>
<text x="435.3" y="632.0" font-size="9.3" text-anchor="middle" fill="#ff0000">34</text>
<text x="462.1" y="619.4" font-size="9.3" text-anchor="middle">26</text>
<text x="462.1" y="632.0" font-size="9.3" text-anchor="middle" fill="#ff0000">14</text>
<rect x="507.6" y="420.4" width="170.2" height="141.8" fill="none" stroke="#7a7a7a" stroke-width="1"/>
<line x1="504.20" y1="557.30" x2="507.60" y2="557.30" stroke="#777" stroke-width="1"/>
<text x="499.1" y="560.4" font-size="9.3" text-anchor="end">0.0</text>
<line x1="504.20" y1="530.96" x2="507.60" y2="530.96" stroke="#777" stroke-width="1"/>
<text x="499.1" y="534.1" font-size="9.3" text-anchor="end">0.2</text>
<line x1="504.20" y1="504.62" x2="507.60" y2="504.62" stroke="#777" stroke-width="1"/>
<text x="499.1" y="507.8" font-size="9.3" text-anchor="end">0.4</text>
<line x1="504.20" y1="478.28" x2="507.60" y2="478.28" stroke="#777" stroke-width="1"/>
<text x="499.1" y="481.4" font-size="9.3" text-anchor="end">0.6</text>
<line x1="504.20" y1="451.94" x2="507.60" y2="451.94" stroke="#777" stroke-width="1"/>
<text x="499.1" y="455.1" font-size="9.3" text-anchor="end">0.8</text>
<line x1="504.20" y1="425.60" x2="507.60" y2="425.60" stroke="#777" stroke-width="1"/>
<text x="499.1" y="428.8" font-size="9.3" text-anchor="end">1.0</text>
<line x1="514.40" y1="562.20" x2="514.40" y2="565.60" stroke="#777" stroke-width="1"/>
<text x="514.4" y="578.3" font-size="9.3" text-anchor="middle">0</text>
<line x1="539.10" y1="562.20" x2="539.10" y2="565.60" stroke="#777" stroke-width="1"/>
<text x="539.1" y="578.3" font-size="9.3" text-anchor="middle">20</text>
<line x1="563.80" y1="562.20" x2="563.80" y2="565.60" stroke="#777" stroke-width="1"/>
<text x="563.8" y="578.3" font-size="9.3" text-anchor="middle">40</text>
<line x1="588.50" y1="562.20" x2="588.50" y2="565.60" stroke="#777" stroke-width="1"/>
<text x="588.5" y="578.3" font-size="9.3" text-anchor="middle">60</text>
<line x1="613.20" y1="562.20" x2="613.20" y2="565.60" stroke="#777" stroke-width="1"/>
<text x="613.2" y="578.3" font-size="9.3" text-anchor="middle">80</text>
<line x1="637.90" y1="562.20" x2="637.90" y2="565.60" stroke="#777" stroke-width="1"/>
<text x="637.9" y="578.3" font-size="9.3" text-anchor="middle">100</text>
<line x1="662.60" y1="562.20" x2="662.60" y2="565.60" stroke="#777" stroke-width="1"/>
<text x="662.6" y="578.3" font-size="9.3" text-anchor="middle">120</text>
<text x="588.4" y="595.2" font-size="9.3" text-anchor="middle">Time (months)</text>
<text x="669.2" y="431.6" font-size="7.9" text-anchor="end">HR = 0.48 (0.35 − 0.67)</text>
<text x="669.2" y="441.6" font-size="7.9" text-anchor="end">logrank P = 1.2e−05</text>
<text x="511.5" y="539.1" font-size="9.3">Expression</text>
<line x1="514.40" y1="546.50" x2="527.60" y2="546.50" stroke="#888" stroke-width="1.3"/>
<line x1="514.40" y1="555.50" x2="527.60" y2="555.50" stroke="#ff6060" stroke-width="1.0"/>
<text x="534.8" y="549.1" font-size="9.3">low</text>
<text x="534.2" y="558.7" font-size="9.3">high</text>
<path d="M514.5,425.5 L519.5,432.1 L524.7,440.0 L528.0,446.5 L533.2,451.8 L540.5,461.0 L548.4,465.6 L557.6,472.8 L564.1,476.8 L570.7,480.7 L578.6,484.6 L589.1,488.9 L599.2,488.6 L599.8,490.6 L643.2,490.6 L643.2,512.9 L672.1,512.9" fill="none" stroke="#000" stroke-width="0.95" stroke-linejoin="round"/>
<path d="M515.6,429.1h3.2M517.2,427.5v3.2M518.7,433.4h3.2M520.3,431.8v3.2M520.5,436.1h3.2M522.1,434.5v3.2M522.1,438.4h3.2M523.7,436.8v3.2M523.4,440.5h3.2M525.0,438.9v3.2M526.6,446.7h3.2M528.2,445.1v3.2M528.5,448.6h3.2M530.1,447.0v3.2M529.7,449.9h3.2M531.3,448.3v3.2M531.6,451.8h3.2M533.2,450.2v3.2M532.9,453.4h3.2M534.5,451.8v3.2M534.3,455.2h3.2M535.9,453.6v3.2M537.0,458.6h3.2M538.6,457.0v3.2M539.4,461.3h3.2M541.0,459.7v3.2M540.1,461.7h3.2M541.7,460.1v3.2M543.7,463.8h3.2M545.3,462.2v3.2M544.3,464.1h3.2M545.9,462.5v3.2M546.2,465.2h3.2M547.8,463.6v3.2M547.7,466.3h3.2M549.3,464.7v3.2M551.7,469.5h3.2M553.3,467.9v3.2M553.0,470.5h3.2M554.6,468.9v3.2M555.3,472.2h3.2M556.9,470.6v3.2M556.6,473.1h3.2M558.2,471.5v3.2M557.1,473.5h3.2M558.7,471.9v3.2M559.7,475.1h3.2M561.3,473.5v3.2M562.0,476.5h3.2M563.6,474.9v3.2M563.0,477.1h3.2M564.6,475.5v3.2M566.8,479.4h3.2M568.4,477.8v3.2M567.4,479.7h3.2M569.0,478.1v3.2M568.8,480.5h3.2M570.4,478.9v3.2M572.2,482.2h3.2M573.8,480.6v3.2M572.5,482.4h3.2M574.1,480.8v3.2M576.3,484.2h3.2M577.9,482.6v3.2M577.1,484.6h3.2M578.7,483.0v3.2M579.2,485.5h3.2M580.8,483.9v3.2M580.6,486.1h3.2M582.2,484.5v3.2M582.9,487.0h3.2M584.5,485.4v3.2M584.1,487.5h3.2M585.7,485.9v3.2M585.6,488.1h3.2M587.2,486.5v3.2M589.4,488.8h3.2M591.0,487.2v3.2M589.9,488.8h3.2M591.5,487.2v3.2M593.0,488.7h3.2M594.6,487.1v3.2M593.6,488.7h3.2M595.2,487.1v3.2M597.3,488.6h3.2M598.9,487.0v3.2M601.5,490.6h3.2M603.1,489.0v3.2M601.5,490.6h3.2M603.1,489.0v3.2M603.5,490.6h3.2M605.1,489.0v3.2M608.5,490.6h3.2M610.1,489.0v3.2M608.5,490.6h3.2M610.1,489.0v3.2M610.7,490.6h3.2M612.3,489.0v3.2M614.4,490.6h3.2M616.0,489.0v3.2M621.2,490.6h3.2M622.8,489.0v3.2M623.2,490.6h3.2M624.8,489.0v3.2M625.4,490.6h3.2M627.0,489.0v3.2M627.8,490.6h3.2M629.4,489.0v3.2M631.8,490.6h3.2M633.4,489.0v3.2M634.4,490.6h3.2M636.0,489.0v3.2M639.0,490.6h3.2M640.6,489.0v3.2M663.3,512.9h3.2M664.9,511.3v3.2M669.9,512.9h3.2M671.5,511.3v3.2" stroke="#000" stroke-width="0.85" fill="none"/>
<path d="M514.5,425.5 L520.8,428.1 L526.0,433.4 L533.9,438.7 L540.5,444.6 L548.4,447.8 L557.6,452.4 L566.8,456.4 L576.0,459.0 L586.5,460.8 L607.7,460.8 L607.7,463.9 L658.3,463.9" fill="none" stroke="#ff0000" stroke-width="0.95" stroke-linejoin="round"/>
<path d="M519.3,428.2h3.2M520.9,426.6v3.2M521.2,430.1h3.2M522.8,428.5v3.2M522.8,431.8h3.2M524.4,430.2v3.2M522.9,431.9h3.2M524.5,430.3v3.2M525.8,434.3h3.2M527.4,432.7v3.2M527.2,435.3h3.2M528.8,433.7v3.2M529.3,436.7h3.2M530.9,435.1v3.2M530.2,437.3h3.2M531.8,435.7v3.2M532.1,438.6h3.2M533.7,437.0v3.2M534.5,440.6h3.2M536.1,439.0v3.2M535.8,441.8h3.2M537.4,440.2v3.2M538.1,443.9h3.2M539.7,442.3v3.2M539.0,444.6h3.2M540.6,443.0v3.2M540.9,445.4h3.2M542.5,443.8v3.2M544.1,446.7h3.2M545.7,445.1v3.2M545.2,447.2h3.2M546.8,445.6v3.2M547.2,448.0h3.2M548.8,446.4v3.2M549.5,449.2h3.2M551.1,447.6v3.2M550.5,449.6h3.2M552.1,448.0v3.2M551.6,450.2h3.2M553.2,448.6v3.2M555.0,451.9h3.2M556.6,450.3v3.2M556.4,452.6h3.2M558.0,451.0v3.2M558.3,453.4h3.2M559.9,451.8v3.2M560.1,454.2h3.2M561.7,452.6v3.2M562.6,455.3h3.2M564.2,453.7v3.2M563.1,455.5h3.2M564.7,453.9v3.2M565.8,456.6h3.2M567.4,455.0v3.2M566.7,456.8h3.2M568.3,455.2v3.2M569.0,457.5h3.2M570.6,455.9v3.2M570.9,458.0h3.2M572.5,456.4v3.2M572.0,458.3h3.2M573.6,456.7v3.2M573.3,458.7h3.2M574.9,457.1v3.2M575.9,459.3h3.2M577.5,457.7v3.2M578.3,459.7h3.2M579.9,458.1v3.2M579.8,459.9h3.2M581.4,458.3v3.2M581.3,460.2h3.2M582.9,458.6v3.2M583.5,460.6h3.2M585.1,459.0v3.2M584.3,460.7h3.2M585.9,459.1v3.2M586.1,460.8h3.2M587.7,459.2v3.2M588.2,460.8h3.2M589.8,459.2v3.2M591.1,460.8h3.2M592.7,459.2v3.2M591.5,460.8h3.2M593.1,459.2v3.2M593.2,460.8h3.2M594.8,459.2v3.2M594.9,460.8h3.2M596.5,459.2v3.2M596.6,460.8h3.2M598.2,459.2v3.2M598.9,460.8h3.2M600.5,459.2v3.2M601.4,460.8h3.2M603.0,459.2v3.2M603.7,460.8h3.2M605.3,459.2v3.2M607.4,463.9h3.2M609.0,462.3v3.2M609.9,463.9h3.2M611.5,462.3v3.2M610.4,463.9h3.2M612.0,462.3v3.2M614.7,463.9h3.2M616.3,462.3v3.2M614.8,463.9h3.2M616.4,462.3v3.2M618.3,463.9h3.2M619.9,462.3v3.2M627.8,463.9h3.2M629.4,462.3v3.2M629.9,463.9h3.2M631.5,462.3v3.2M631.8,463.9h3.2M633.4,462.3v3.2M633.7,463.9h3.2M635.3,462.3v3.2M639.0,463.9h3.2M640.6,462.3v3.2M644.2,463.9h3.2M645.8,462.3v3.2M646.9,463.9h3.2M648.5,462.3v3.2M649.4,463.9h3.2M651.0,462.3v3.2M651.9,463.9h3.2M653.5,462.3v3.2M654.4,463.9h3.2M656.0,462.3v3.2M656.7,463.9h3.2M658.3,462.3v3.2" stroke="#ff0000" stroke-width="0.85" fill="none"/>
<text x="486.5" y="607.3" font-size="9.3">Number at risk</text>
<text x="486.5" y="619.5" font-size="9.3">low</text>
<text x="486.5" y="631.7" font-size="9.3" fill="#ff0000">high</text>
<text x="514.4" y="619.5" font-size="9.3" text-anchor="middle">223</text>
<text x="514.4" y="631.7" font-size="9.3" text-anchor="middle" fill="#ff0000">220</text>
<text x="539.1" y="619.5" font-size="9.3" text-anchor="middle">152</text>
<text x="539.1" y="631.7" font-size="9.3" text-anchor="middle" fill="#ff0000">189</text>
<text x="563.8" y="619.5" font-size="9.3" text-anchor="middle">99</text>
<text x="563.8" y="631.7" font-size="9.3" text-anchor="middle" fill="#ff0000">145</text>
<text x="588.5" y="619.5" font-size="9.3" text-anchor="middle">57</text>
<text x="588.5" y="631.7" font-size="9.3" text-anchor="middle" fill="#ff0000">92</text>
<text x="613.2" y="619.5" font-size="9.3" text-anchor="middle">16</text>
<text x="613.2" y="631.7" font-size="9.3" text-anchor="middle" fill="#ff0000">28</text>
<text x="637.9" y="619.5" font-size="9.3" text-anchor="middle">4</text>
<text x="637.9" y="631.7" font-size="9.3" text-anchor="middle" fill="#ff0000">9</text>
<text x="662.6" y="619.5" font-size="9.3" text-anchor="middle">2</text>
<text x="662.6" y="631.7" font-size="9.3" text-anchor="middle" fill="#ff0000">0</text>
<rect x="294.3" y="700.6" width="169.0" height="140.2" fill="none" stroke="#7a7a7a" stroke-width="1"/>
<line x1="290.90" y1="836.60" x2="294.30" y2="836.60" stroke="#777" stroke-width="1"/>
<text x="285.8" y="839.8" font-size="9.3" text-anchor="end">0.0</text>
<line x1="290.90" y1="810.38" x2="294.30" y2="810.38" stroke="#777" stroke-width="1"/>
<text x="285.8" y="813.5" font-size="9.3" text-anchor="end">0.2</text>
<line x1="290.90" y1="784.16" x2="294.30" y2="784.16" stroke="#777" stroke-width="1"/>
<text x="285.8" y="787.3" font-size="9.3" text-anchor="end">0.4</text>
<line x1="290.90" y1="757.94" x2="294.30" y2="757.94" stroke="#777" stroke-width="1"/>
<text x="285.8" y="761.1" font-size="9.3" text-anchor="end">0.6</text>
<line x1="290.90" y1="731.72" x2="294.30" y2="731.72" stroke="#777" stroke-width="1"/>
<text x="285.8" y="734.9" font-size="9.3" text-anchor="end">0.8</text>
<line x1="290.90" y1="705.50" x2="294.30" y2="705.50" stroke="#777" stroke-width="1"/>
<text x="285.8" y="708.6" font-size="9.3" text-anchor="end">1.0</text>
<line x1="301.00" y1="840.80" x2="301.00" y2="844.20" stroke="#777" stroke-width="1"/>
<text x="301.0" y="855.7" font-size="9.3" text-anchor="middle">0</text>
<line x1="328.03" y1="840.80" x2="328.03" y2="844.20" stroke="#777" stroke-width="1"/>
<text x="328.0" y="855.7" font-size="9.3" text-anchor="middle">20</text>
<line x1="355.07" y1="840.80" x2="355.07" y2="844.20" stroke="#777" stroke-width="1"/>
<text x="355.1" y="855.7" font-size="9.3" text-anchor="middle">40</text>
<line x1="382.10" y1="840.80" x2="382.10" y2="844.20" stroke="#777" stroke-width="1"/>
<text x="382.1" y="855.7" font-size="9.3" text-anchor="middle">60</text>
<line x1="409.13" y1="840.80" x2="409.13" y2="844.20" stroke="#777" stroke-width="1"/>
<text x="409.1" y="855.7" font-size="9.3" text-anchor="middle">80</text>
<line x1="436.17" y1="840.80" x2="436.17" y2="844.20" stroke="#777" stroke-width="1"/>
<text x="436.2" y="855.7" font-size="9.3" text-anchor="middle">100</text>
<line x1="463.20" y1="840.80" x2="463.20" y2="844.20" stroke="#777" stroke-width="1"/>
<text x="463.2" y="855.7" font-size="9.3" text-anchor="middle">120</text>
<text x="381.9" y="870.1" font-size="9.3" text-anchor="middle">Time (months)</text>
<text transform="translate(265.0,770.7) rotate(-90)" font-size="9.3" text-anchor="middle">Probability</text>
<text x="458.2" y="712.3" font-size="7.9" text-anchor="end">HR = 0.32 (0.13 − 0.82)</text>
<text x="457.4" y="722.3" font-size="7.9" text-anchor="end">logrank P = 0.013</text>
<text x="297.8" y="818.5" font-size="7.8">Expression</text>
<line x1="300.90" y1="825.50" x2="315.00" y2="825.50" stroke="#777" stroke-width="1.0"/>
<line x1="300.90" y1="833.50" x2="315.00" y2="833.50" stroke="#ff6060" stroke-width="1.0"/>
<text x="318.9" y="827.6" font-size="7.8">low</text>
<text x="318.9" y="835.6" font-size="7.8">high</text>
<path d="M301.3,705.5 L311.8,705.5 L311.8,706.6 L320.3,706.6 L321.0,709.2 L331.5,709.2 L332.0,711.2 L336.1,711.2 L336.8,713.1 L351.2,713.1 L353.2,714.5 L355.8,717.1 L359.1,719.7 L362.4,723.0 L365.0,724.3 L367.0,728.9 L367.6,731.3 L376.8,731.3 L378.1,733.9 L394.0,734.4 L394.7,738.1 L398.0,744.0 L403.2,744.4 L403.2,757.2 L444.6,757.2" fill="none" stroke="#000" stroke-width="0.8" stroke-linejoin="round"/>
<path d="M301.9,705.5h2.8M303.3,704.1v2.8M307.8,705.5h2.8M309.2,704.1v2.8M326.8,709.2h2.8M328.2,707.8v2.8M336.0,713.1h2.8M337.4,711.7v2.8M343.2,713.1h2.8M344.6,711.7v2.8M345.9,713.1h2.8M347.3,711.7v2.8M347.2,713.1h2.8M348.6,711.7v2.8M348.5,713.1h2.8M349.9,711.7v2.8M354.4,717.1h2.8M355.8,715.7v2.8M363.6,724.3h2.8M365.0,722.9v2.8M367.6,731.3h2.8M369.0,729.9v2.8M370.2,731.3h2.8M371.6,729.9v2.8M372.1,731.3h2.8M373.5,729.9v2.8M374.1,731.3h2.8M375.5,729.9v2.8M376.6,733.7h2.8M378.0,732.3v2.8M378.6,734.0h2.8M380.0,732.6v2.8M380.6,734.0h2.8M382.0,732.6v2.8M382.6,734.1h2.8M384.0,732.7v2.8M384.6,734.1h2.8M386.0,732.7v2.8M386.6,734.2h2.8M388.0,732.8v2.8M388.6,734.3h2.8M390.0,732.9v2.8M391.3,734.4h2.8M392.7,733.0v2.8M397.2,744.0h2.8M398.6,742.6v2.8M399.9,744.3h2.8M401.3,742.9v2.8M406.4,757.2h2.8M407.8,755.8v2.8M408.4,757.2h2.8M409.8,755.8v2.8M411.7,757.2h2.8M413.1,755.8v2.8M420.2,757.2h2.8M421.6,755.8v2.8M424.2,757.2h2.8M425.6,755.8v2.8M431.4,757.2h2.8M432.8,755.8v2.8M432.7,757.2h2.8M434.1,755.8v2.8M443.2,757.2h2.8M444.6,755.8v2.8" stroke="#000" stroke-width="0.85" fill="none"/>
<path d="M301.3,705.5 L338.7,705.5 L339.2,706.6 L345.3,706.6 L346.0,707.9 L347.3,710.5 L348.6,712.5 L349.9,713.1 L384.1,713.1 L384.7,717.1 L420.3,717.1 L420.3,733.9 L457.1,733.9" fill="none" stroke="#ff0000" stroke-width="0.8" stroke-linejoin="round"/>
<path d="M337.3,705.5h2.8M338.7,704.1v2.8M344.6,707.9h2.8M346.0,706.5v2.8M345.9,710.5h2.8M347.3,709.1v2.8M363.6,713.1h2.8M365.0,711.7v2.8M366.2,713.1h2.8M367.6,711.7v2.8M368.2,713.1h2.8M369.6,711.7v2.8M369.5,713.1h2.8M370.9,711.7v2.8M372.1,713.1h2.8M373.5,711.7v2.8M374.1,713.1h2.8M375.5,711.7v2.8M375.4,713.1h2.8M376.8,711.7v2.8M376.7,713.1h2.8M378.1,711.7v2.8M378.1,713.1h2.8M379.5,711.7v2.8M379.4,713.1h2.8M380.8,711.7v2.8M380.7,713.1h2.8M382.1,711.7v2.8M382.7,713.1h2.8M384.1,711.7v2.8M388.1,717.1h2.8M389.5,715.7v2.8M393.3,717.1h2.8M394.7,715.7v2.8M396.6,717.1h2.8M398.0,715.7v2.8M399.2,717.1h2.8M400.6,715.7v2.8M401.8,717.1h2.8M403.2,715.7v2.8M404.5,717.1h2.8M405.9,715.7v2.8M407.1,717.1h2.8M408.5,715.7v2.8M409.1,717.1h2.8M410.5,715.7v2.8M413.0,717.1h2.8M414.4,715.7v2.8M415.6,717.1h2.8M417.0,715.7v2.8M428.8,733.9h2.8M430.2,732.5v2.8M433.4,733.9h2.8M434.8,732.5v2.8M436.7,733.9h2.8M438.1,732.5v2.8M446.5,733.9h2.8M447.9,732.5v2.8M449.8,733.9h2.8M451.2,732.5v2.8M455.7,733.9h2.8M457.1,732.5v2.8" stroke="#ff0000" stroke-width="0.85" fill="none"/>
<text x="272.8" y="884.1" font-size="9.3">Number at risk</text>
<text x="272.8" y="896.9" font-size="9.3">low</text>
<text x="272.8" y="911.8" font-size="9.3" fill="#ff0000">high</text>
<text x="301.0" y="898.4" font-size="9.3" text-anchor="middle">71</text>
<text x="301.0" y="910.9" font-size="9.3" text-anchor="middle" fill="#ff0000">69</text>
<text x="328.0" y="898.4" font-size="9.3" text-anchor="middle">67</text>
<text x="328.0" y="911.8" font-size="9.3" text-anchor="middle" fill="#ff0000">69</text>
<text x="355.1" y="897.8" font-size="9.3" text-anchor="middle">56</text>
<text x="355.1" y="910.9" font-size="9.3" text-anchor="middle" fill="#ff0000">59</text>
<text x="382.1" y="897.5" font-size="9.3" text-anchor="middle">35</text>
<text x="382.1" y="910.9" font-size="9.3" text-anchor="middle" fill="#ff0000">41</text>
<text x="409.1" y="896.3" font-size="9.3" text-anchor="middle">11</text>
<text x="409.1" y="909.7" font-size="9.3" text-anchor="middle" fill="#ff0000">13</text>
<text x="436.2" y="896.3" font-size="9.3" text-anchor="middle">1</text>
<text x="436.2" y="910.9" font-size="9.3" text-anchor="middle" fill="#ff0000">4</text>
<text x="463.2" y="896.9" font-size="9.3" text-anchor="middle">0</text>
<text x="463.2" y="910.9" font-size="9.3" text-anchor="middle" fill="#ff0000">0</text>
<rect x="508.0" y="699.7" width="169.1" height="141.7" fill="none" stroke="#7a7a7a" stroke-width="1"/>
<line x1="504.60" y1="836.40" x2="508.00" y2="836.40" stroke="#777" stroke-width="1"/>
<text x="499.5" y="839.5" font-size="9.3" text-anchor="end">0.0</text>
<line x1="504.60" y1="810.06" x2="508.00" y2="810.06" stroke="#777" stroke-width="1"/>
<text x="499.5" y="813.2" font-size="9.3" text-anchor="end">0.2</text>
<line x1="504.60" y1="783.72" x2="508.00" y2="783.72" stroke="#777" stroke-width="1"/>
<text x="499.5" y="786.9" font-size="9.3" text-anchor="end">0.4</text>
<line x1="504.60" y1="757.38" x2="508.00" y2="757.38" stroke="#777" stroke-width="1"/>
<text x="499.5" y="760.5" font-size="9.3" text-anchor="end">0.6</text>
<line x1="504.60" y1="731.04" x2="508.00" y2="731.04" stroke="#777" stroke-width="1"/>
<text x="499.5" y="734.2" font-size="9.3" text-anchor="end">0.8</text>
<line x1="504.60" y1="704.70" x2="508.00" y2="704.70" stroke="#777" stroke-width="1"/>
<text x="499.5" y="707.9" font-size="9.3" text-anchor="end">1.0</text>
<line x1="514.00" y1="841.40" x2="514.00" y2="844.80" stroke="#777" stroke-width="1"/>
<text x="514.0" y="855.4" font-size="9.3" text-anchor="middle">0</text>
<line x1="541.18" y1="841.40" x2="541.18" y2="844.80" stroke="#777" stroke-width="1"/>
<text x="541.2" y="855.4" font-size="9.3" text-anchor="middle">20</text>
<line x1="568.37" y1="841.40" x2="568.37" y2="844.80" stroke="#777" stroke-width="1"/>
<text x="568.4" y="855.4" font-size="9.3" text-anchor="middle">40</text>
<line x1="595.55" y1="841.40" x2="595.55" y2="844.80" stroke="#777" stroke-width="1"/>
<text x="595.5" y="855.4" font-size="9.3" text-anchor="middle">60</text>
<line x1="622.73" y1="841.40" x2="622.73" y2="844.80" stroke="#777" stroke-width="1"/>
<text x="622.7" y="855.4" font-size="9.3" text-anchor="middle">80</text>
<line x1="649.92" y1="841.40" x2="649.92" y2="844.80" stroke="#777" stroke-width="1"/>
<text x="649.9" y="855.4" font-size="9.3" text-anchor="middle">100</text>
<line x1="677.10" y1="841.40" x2="677.10" y2="844.80" stroke="#777" stroke-width="1"/>
<text x="677.1" y="855.4" font-size="9.3" text-anchor="middle">120</text>
<text x="595.6" y="869.8" font-size="9.3" text-anchor="middle">Time (months)</text>
<text x="669.2" y="710.9" font-size="7.9" text-anchor="end">HR = 0.43 (0.22 − 0.84)</text>
<text x="660.2" y="720.9" font-size="7.9" text-anchor="end">logrank P = 0.011</text>
<text x="510.8" y="818.6" font-size="7.8">Expression</text>
<line x1="514.20" y1="824.50" x2="528.20" y2="824.50" stroke="#777" stroke-width="1.0"/>
<line x1="514.20" y1="833.50" x2="528.20" y2="833.50" stroke="#ff6060" stroke-width="1.0"/>
<text x="531.7" y="827.5" font-size="7.8">low</text>
<text x="531.7" y="835.7" font-size="7.8">high</text>
<path d="M513.9,704.3 L524.5,704.3 L524.5,706.1 L526.4,706.1 L526.4,707.9 L533.6,707.9 L534.3,711.8 L535.6,715.1 L536.9,717.7 L540.2,717.7 L541.5,720.3 L543.5,723.0 L545.5,726.2 L550.7,728.2 L553.4,730.8 L555.3,732.8 L559.9,733.5 L561.2,736.1 L562.6,737.4 L564.5,740.0 L575.0,740.0 L575.0,742.7 L576.3,748.6 L586.9,748.6 L588.8,750.6 L590.8,753.2 L593.4,755.2 L595.9,757.3 L607.1,757.3 L607.1,760.3 L608.4,762.3 L617.6,762.3 L617.6,770.4 L660.3,770.4" fill="none" stroke="#000" stroke-width="0.8" stroke-linejoin="round"/>
<path d="M515.2,704.3h2.8M516.6,702.9v2.8M521.1,704.3h2.8M522.5,702.9v2.8M525.0,706.1h2.8M526.4,704.7v2.8M540.1,720.3h2.8M541.5,718.9v2.8M556.6,733.2h2.8M558.0,731.8v2.8M558.5,733.5h2.8M559.9,732.1v2.8M563.8,740.0h2.8M565.2,738.6v2.8M566.4,740.0h2.8M567.8,738.6v2.8M568.4,740.0h2.8M569.8,738.6v2.8M575.6,748.6h2.8M577.0,747.2v2.8M577.1,748.6h2.8M578.5,747.2v2.8M578.6,748.6h2.8M580.0,747.2v2.8M580.2,748.6h2.8M581.6,747.2v2.8M586.8,750.0h2.8M588.2,748.6v2.8M594.0,756.9h2.8M595.4,755.5v2.8M595.2,757.3h2.8M596.6,755.9v2.8M597.1,757.3h2.8M598.5,755.9v2.8M599.1,757.3h2.8M600.5,755.9v2.8M601.1,757.3h2.8M602.5,755.9v2.8M605.0,757.3h2.8M606.4,755.9v2.8M607.6,762.3h2.8M609.0,760.9v2.8M611.6,762.3h2.8M613.0,760.9v2.8M615.5,762.3h2.8M616.9,760.9v2.8M620.1,770.4h2.8M621.5,769.0v2.8M624.7,770.4h2.8M626.1,769.0v2.8M639.2,770.4h2.8M640.6,769.0v2.8M645.1,770.4h2.8M646.5,769.0v2.8M645.8,770.4h2.8M647.2,769.0v2.8M647.1,770.4h2.8M648.5,769.0v2.8M656.9,770.4h2.8M658.3,769.0v2.8" stroke="#000" stroke-width="0.85" fill="none"/>
<path d="M513.9,704.3 L522.5,704.3 L523.1,707.9 L526.4,707.9 L526.4,709.8 L529.1,709.8 L529.1,711.8 L531.0,711.8 L531.0,713.8 L536.3,714.4 L538.2,716.4 L543.5,716.4 L544.8,718.4 L546.8,720.1 L549.4,721.7 L557.3,721.7 L558.0,722.3 L559.3,724.3 L562.6,726.2 L565.2,726.2 L567.2,728.2 L575.7,728.2 L576.4,729.9 L671.5,729.9" fill="none" stroke="#ff0000" stroke-width="0.8" stroke-linejoin="round"/>
<path d="M550.6,721.7h2.8M552.0,720.3v2.8M556.6,722.3h2.8M558.0,720.9v2.8M558.5,724.6h2.8M559.9,723.2v2.8M559.8,725.4h2.8M561.2,724.0v2.8M565.8,728.2h2.8M567.2,726.8v2.8M576.9,729.9h2.8M578.3,728.5v2.8M580.2,729.9h2.8M581.6,728.5v2.8M583.5,729.9h2.8M584.9,728.5v2.8M585.5,729.9h2.8M586.9,728.5v2.8M587.4,729.9h2.8M588.8,728.5v2.8M588.7,729.9h2.8M590.1,728.5v2.8M589.9,729.9h2.8M591.3,728.5v2.8M591.9,729.9h2.8M593.3,728.5v2.8M594.5,729.9h2.8M595.9,728.5v2.8M595.8,729.9h2.8M597.2,728.5v2.8M597.1,729.9h2.8M598.5,728.5v2.8M598.6,729.9h2.8M600.0,728.5v2.8M601.1,729.9h2.8M602.5,728.5v2.8M602.4,729.9h2.8M603.8,728.5v2.8M606.3,729.9h2.8M607.7,728.5v2.8M609.6,729.9h2.8M611.0,728.5v2.8M610.9,729.9h2.8M612.3,728.5v2.8M616.2,729.9h2.8M617.6,728.5v2.8M619.5,729.9h2.8M620.9,728.5v2.8M622.1,729.9h2.8M623.5,728.5v2.8M623.4,729.9h2.8M624.8,728.5v2.8M628.0,729.9h2.8M629.4,728.5v2.8M630.0,729.9h2.8M631.4,728.5v2.8M643.1,729.9h2.8M644.5,728.5v2.8M646.4,729.9h2.8M647.8,728.5v2.8M651.0,729.9h2.8M652.4,728.5v2.8M660.2,729.9h2.8M661.6,728.5v2.8M663.5,729.9h2.8M664.9,728.5v2.8M670.1,729.9h2.8M671.5,728.5v2.8" stroke="#ff0000" stroke-width="0.85" fill="none"/>
<text x="486.5" y="883.7" font-size="9.3">Number at risk</text>
<text x="486.5" y="895.3" font-size="9.3">low</text>
<text x="486.5" y="910.8" font-size="9.3" fill="#ff0000">high</text>
<text x="514.0" y="897.7" font-size="9.3" text-anchor="middle">71</text>
<text x="514.0" y="909.9" font-size="9.3" text-anchor="middle" fill="#ff0000">69</text>
<text x="541.2" y="897.7" font-size="9.3" text-anchor="middle">60</text>
<text x="541.2" y="910.8" font-size="9.3" text-anchor="middle" fill="#ff0000">63</text>
<text x="568.4" y="896.5" font-size="9.3" text-anchor="middle">44</text>
<text x="568.4" y="909.9" font-size="9.3" text-anchor="middle" fill="#ff0000">52</text>
<text x="595.5" y="896.2" font-size="9.3" text-anchor="middle">27</text>
<text x="595.5" y="909.9" font-size="9.3" text-anchor="middle" fill="#ff0000">36</text>
<text x="622.7" y="894.7" font-size="9.3" text-anchor="middle">7</text>
<text x="622.7" y="908.7" font-size="9.3" text-anchor="middle" fill="#ff0000">12</text>
<text x="649.9" y="895.6" font-size="9.3" text-anchor="middle">1</text>
<text x="649.9" y="910.2" font-size="9.3" text-anchor="middle" fill="#ff0000">4</text>
<text x="677.1" y="895.9" font-size="9.3" text-anchor="middle">0</text>
<text x="677.1" y="909.9" font-size="9.3" text-anchor="middle" fill="#ff0000">0</text>
</svg>
</body></html>
